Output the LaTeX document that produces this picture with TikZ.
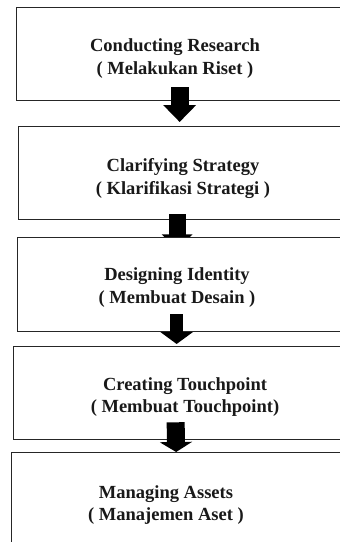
\documentclass[tikz,border=0pt]{standalone}
\usepackage{fontspec}
\setmainfont{Liberation Serif}
\usetikzlibrary{arrows.meta}

\tikzset{
  stepbox/.style={draw=black!85, line width=1.3pt, fill=white, anchor=north west, inner sep=0pt},
  steptext/.style={align=center, text=black!90, font=\bfseries\fontsize{18.5}{22.5}\selectfont},
  blockarrow/.style n args={3}{line width=#1, -{Triangle[width=#2,length=#3]}, black}
}

\begin{document}
\begin{tikzpicture}
  [x=1pt, y=-1pt]
  \useasboundingbox (0,0) rectangle (340,542);
  \clip (0,0) rectangle (340,542);

  % stages
  \node[stepbox, minimum width=334pt, minimum height=93pt] (research) at (16,7) {};
  \node[stepbox, minimum width=332pt, minimum height=93pt] (strategy) at (18,126) {};

  \draw[blockarrow={18pt}{32pt}{17pt}] ([xshift=-4pt,yshift=14pt]research.south) -- ([xshift=-5pt,yshift=4pt]strategy.north);
  % head of this one is hidden under the next box
  \draw[blockarrow={17pt}{30pt}{15pt}] ([xshift=-7.5pt,yshift=6pt]strategy.south) -- ([xshift=-7.5pt,yshift=-29pt]strategy.south);

  \node[stepbox, minimum width=333pt, minimum height=94pt] (identity) at (17,237) {};
  \node[stepbox, minimum width=337pt, minimum height=93pt] (touchpoint) at (13,346) {};
  \node[stepbox, minimum width=339pt, minimum height=110pt] (assets) at (11,452) {};

  \draw[blockarrow={13.5pt}{32pt}{12pt}] ([xshift=-7.5pt,yshift=18pt]identity.south) -- ([xshift=-5.5pt,yshift=2pt]touchpoint.north);
  \draw[blockarrow={18pt}{32pt}{10pt}] ([xshift=-6.5pt,yshift=18pt]touchpoint.south) -- ([xshift=-5pt]assets.north);

  % labels
  \node[steptext] (research-txt) at (175,58.5) {Conducting Research\\( Melakukan Riset )};
  \node[steptext] (strategy-txt) at (183,178.5) {Clarifying Strategy\\( Klarifikasi Strategi )};
  \node[steptext] (identity-txt) at (177,287.5) {Designing Identity\\( Membuat Desain )};
  \node[steptext] (touchpoint-txt) at (185,397) {Creating Touchpoint\\( Membuat Touchpoint)};
  \node[steptext] (assets-txt) at (166,505) {Managing Assets\\( Manajemen Aset )};
\end{tikzpicture}
\end{document}
